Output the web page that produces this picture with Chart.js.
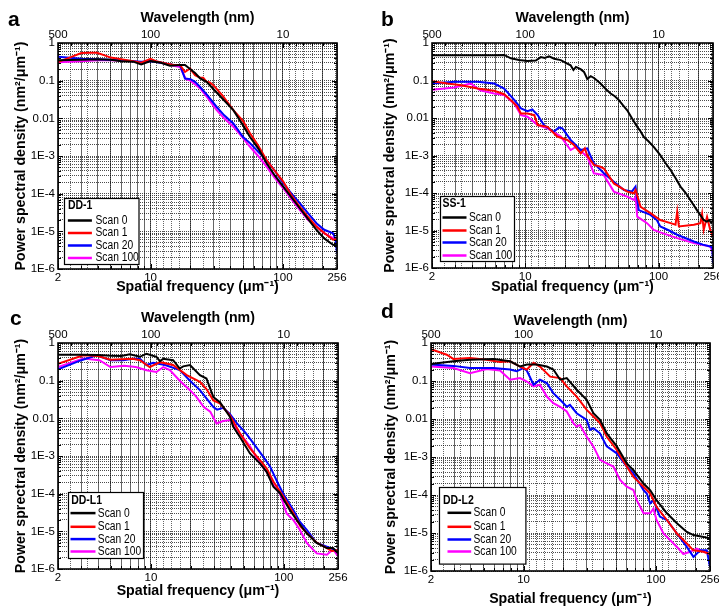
<!DOCTYPE html>
<html><head><meta charset="utf-8">
<script src="https://cdn.jsdelivr.net/npm/chart.js@4.4.1/dist/chart.umd.min.js"></script>
<style>
html,body{margin:0;padding:0;background:#fff;}
#wrap{position:relative;width:719px;height:610px;overflow:hidden;background:#fff;}
.p{position:absolute;}
canvas{display:block;}
</style></head><body>
<div id="wrap">
<div class="p" style="left:0;top:0;width:360px;height:300px"><canvas id="ca" width="360" height="300"></canvas></div>
<div class="p" style="left:360px;top:0;width:359px;height:300px"><canvas id="cb" width="359" height="300"></canvas></div>
<div class="p" style="left:0;top:300px;width:360px;height:310px"><canvas id="cc" width="360" height="310"></canvas></div>
<div class="p" style="left:360px;top:300px;width:359px;height:310px"><canvas id="cd" width="359" height="310"></canvas></div>
</div>
<script>
// ---------- tick labels / categories ----------
const xTickValues = [2, 10, 100, 256];
const xTickLabels = ['2', '10', '100', '256'];
const xGridValues = [2,3,4,5,6,7,8,9,10,20,30,40,50,60,70,80,90,100,200,256];
const topWavelengths = [500,400,300,200,100,90,80,70,60,50,40,30,20,10,9,8,7,6,5,4];
const topTickWavelengths = [500, 100, 10];
const topTickLabels = ['500', '100', '10'];
const yTickValues = [1, 0.1, 0.01, 1e-3, 1e-4, 1e-5, 1e-6];
const yTickLabels = ['1', '0.1', '0.01', '1E-3', '1E-4', '1E-5', '1E-6'];
const seriesNames = ['Scan 0', 'Scan 1', 'Scan 20', 'Scan 100'];
const seriesColors = ['#000000', '#ff0000', '#0000ff', '#ff00ff'];
const panelNames = ['DD-1', 'SS-1', 'DD-L1', 'DD-L2'];

// ---------- data: [spatial frequency (1/um), PSD] ----------
// panel a : DD-1
const a_s0 = [[2,0.35],[3,0.36],[4,0.37],[5,0.36],[6,0.33],[7.4,0.32],[8.5,0.27],[10,0.33],[12,0.3],[14,0.25],[16.7,0.26],[18.2,0.26],[20,0.2],[21.7,0.16],[23.7,0.115],[26.5,0.093],[29.8,0.06],[35,0.033],[42.2,0.0165],[50,0.0065],[56.4,0.0032],[65,0.0016],[75.2,6.4e-4],[87,3.0e-4],[100.5,1.54e-4],[116,8e-5],[134,4.1e-5],[155,2.1e-5],[179,1.1e-5],[205,6.5e-6],[239,4.4e-6],[256,4.2e-6]];
const a_s1 = [[2,0.31],[2.5,0.42],[3,0.54],[3.5,0.55],[3.94,0.55],[4.5,0.47],[5,0.41],[6,0.37],[7.4,0.33],[8.5,0.3],[10,0.38],[11,0.33],[13.3,0.28],[15,0.26],[16.7,0.26],[18.2,0.17],[19.9,0.21],[21.7,0.14],[23.7,0.12],[25,0.12],[26.5,0.093],[28,0.09],[29.8,0.076],[35,0.04],[42.2,0.0165],[50,0.0085],[56.4,0.004],[65,0.0019],[75.2,7.8e-4],[87,4e-4],[100.5,2.1e-4],[116,9e-5],[134,4.5e-5],[155,2.4e-5],[179,1.34e-5],[205,9e-6],[239,6e-6],[256,6.3e-6]];
const a_s20 = [[2,0.43],[3,0.38],[4,0.37],[5,0.36],[6,0.35],[7.4,0.33],[8.5,0.32],[10,0.33],[12,0.3],[14.9,0.26],[16.7,0.26],[18.2,0.114],[20,0.11],[21.7,0.093],[23.7,0.068],[27,0.04],[31.6,0.02],[36,0.012],[42.2,0.0073],[50,0.0032],[56.4,0.0022],[65,0.0013],[75.2,7.8e-4],[87,4e-4],[100.5,1.9e-4],[116,1.0e-4],[134,5.6e-5],[155,3e-5],[179,1.64e-5],[205,1.1e-5],[239,8.9e-6],[250,6e-6],[256,2.6e-6]];
const a_s100 = [[2,0.31],[3,0.33],[4,0.35],[5,0.35],[6,0.34],[7.4,0.33],[8.5,0.3],[10,0.35],[12,0.3],[14,0.26],[16.7,0.23],[18.5,0.11],[20,0.1],[23.7,0.062],[27,0.035],[31.6,0.0165],[36,0.01],[42.2,0.006],[50,0.003],[56.4,0.00176],[65,0.001],[75.2,5.2e-4],[87,2.6e-4],[100.5,1.39e-4],[116,7e-5],[134,3.7e-5],[155,2e-5],[179,1.34e-5],[205,9e-6],[239,6.6e-6],[256,6e-6]];
// panel b : SS-1
const b_s0 = [[2,0.47],[3,0.47],[4,0.47],[5,0.47],[6,0.47],[6.95,0.48],[7.8,0.39],[9,0.35],[10.4,0.33],[12,0.34],[13.1,0.42],[14,0.4],[15.1,0.44],[16.5,0.38],[18.5,0.35],[20,0.3],[21.9,0.255],[23,0.19],[24,0.23],[26,0.2],[27.6,0.17],[29.2,0.11],[31,0.13],[33,0.115],[36.7,0.083],[40,0.06],[43.7,0.045],[47,0.038],[50.4,0.03],[54,0.022],[58.2,0.016],[63,0.01],[69.2,0.0058],[73,0.0045],[77.6,0.0031],[84,0.0024],[92,0.0017],[103,0.00103],[112,6.5e-4],[123,4.1e-4],[134,2.5e-4],[146,1.48e-4],[160,1e-4],[173,6.5e-5],[194,3.5e-5],[218,1.9e-5],[230,1.73e-5],[240,1.9e-5],[248,1.6e-5],[256,1.9e-5]];
const b_s1 = [[2,0.096],[2.62,0.083],[3.3,0.075],[4.4,0.061],[5.85,0.053],[6.95,0.043],[7.8,0.03],[8.75,0.02],[9.27,0.0132],[10.4,0.0132],[11.7,0.0119],[12.4,0.0065],[14.7,0.0058],[17.4,0.0032],[20.7,0.0026],[23.2,0.0019],[26.1,0.00114],[28,0.00155],[29.2,0.001],[32.7,5.6e-4],[36.7,5e-4],[38.9,4.5e-4],[46.2,1.8e-4],[58.2,1.09e-4],[65.3,9.8e-5],[67.2,1.2e-4],[73.3,4.3e-5],[87,2.9e-5],[103,1.9e-5],[123,1.57e-5],[134,1.42e-5],[138,3.2e-5],[142,1.28e-5],[184,1.42e-5],[206,1.57e-5],[212,2.8e-5],[218,1.04e-5],[231,2.3e-5],[244,1.04e-5],[256,6.9e-6]];
const b_s20 = [[2,0.083],[2.94,0.092],[4.4,0.092],[5.85,0.083],[6.95,0.061],[8.3,0.03],[9.3,0.018],[10.4,0.0152],[11.3,0.0169],[12.4,0.012],[13.8,0.0065],[16.4,0.0043],[17.9,0.0056],[19,0.0053],[21.9,0.0026],[26.1,0.0014],[29.2,0.00155],[32.7,6.2e-4],[38.9,3.35e-4],[46.2,2.0e-4],[55,1.2e-4],[63,1.09e-4],[67.2,1.48e-4],[71,3.5e-5],[87,2.6e-5],[97,1.9e-5],[103,1.28e-5],[120,1e-5],[138,7.7e-6],[160,6.2e-6],[184,5.1e-6],[215,4.2e-6],[244,3.75e-6],[253,3.5e-6],[256,1.35e-6]];
const b_s100 = [[2,0.057],[2.94,0.065],[3.9,0.083],[4.6,0.055],[5.85,0.045],[6.95,0.041],[8.3,0.024],[9.3,0.012],[10.4,0.0108],[12.4,0.0065],[14.7,0.0053],[18.5,0.0032],[21.9,0.0014],[24,0.0017],[29.2,9.3e-4],[32.7,3.35e-4],[38.9,3.0e-4],[46.2,1.09e-4],[58.2,8e-5],[65.3,6.5e-5],[67.2,8e-5],[69.2,2.35e-5],[82,1.57e-5],[92,1.04e-5],[103,8.9e-6],[138,6.25e-6],[184,4.6e-6],[244,3.75e-6],[256,2.5e-6]];
// panel c : DD-L1
const c_s0 = [[2,0.49],[3,0.49],[4,0.48],[5,0.46],[6,0.45],[6.94,0.5],[8.26,0.43],[9.27,0.52],[11,0.43],[11.7,0.33],[12.4,0.38],[14.7,0.35],[16.5,0.21],[17.5,0.24],[19.7,0.26],[23.4,0.14],[26.2,0.114],[29.5,0.037],[33.1,0.027],[39.3,0.011],[41.7,0.006],[46.8,0.0032],[55.7,0.00117],[66.2,6.4e-4],[74.3,3.8e-4],[83.5,1.54e-4],[93.7,1.03e-4],[111,3.7e-5],[125,2.0e-5],[149,8.9e-6],[177,4.9e-6],[211,3.6e-6],[235,3.6e-6],[256,2.6e-6]];
const c_s1 = [[2,0.28],[3.1,0.47],[4,0.45],[4.96,0.36],[6,0.37],[7.3,0.38],[8.26,0.35],[9.8,0.23],[11.7,0.31],[14.7,0.26],[18.6,0.14],[23.4,0.093],[26.2,0.06],[29.5,0.03],[33.1,0.025],[39.3,0.012],[46.8,0.004],[55.7,0.0016],[66.2,7.8e-4],[74.3,4.7e-4],[83.5,2.1e-4],[99,8.5e-5],[118,3e-5],[134,1.34e-5],[149,9e-6],[177,5e-6],[211,3.6e-6],[230,3e-6],[256,3.2e-6]];
const c_s20 = [[2,0.2],[3,0.35],[3.9,0.47],[4.96,0.35],[6.2,0.35],[7.3,0.38],[8.26,0.38],[9.27,0.26],[10.4,0.3],[12.8,0.26],[16.5,0.19],[19.7,0.1],[23.4,0.056],[29.5,0.02],[31.5,0.017],[35,0.019],[39.3,0.013],[44.5,0.0073],[52,0.004],[59,0.0022],[70,9.6e-4],[79,5.2e-4],[88,2.3e-4],[99,1.0e-4],[118,3.7e-5],[132,1.8e-5],[149,1.1e-5],[177,4.9e-6],[211,3.9e-6],[240,3.3e-6],[256,3.0e-6]];
const c_s100 = [[2,0.23],[3.1,0.385],[4.1,0.35],[4.96,0.23],[6.3,0.25],[7.7,0.23],[9.27,0.19],[11,0.17],[12.4,0.23],[13.9,0.19],[16.5,0.1],[19.7,0.056],[22,0.037],[25,0.02],[28,0.015],[31.2,0.0073],[35,0.0085],[39.3,0.009],[46.8,0.004],[55.7,0.0018],[66.2,6.4e-4],[74.3,3.8e-4],[83.5,1.7e-4],[93.7,1.0e-4],[105,3e-5],[118,2e-5],[132,1.1e-5],[149,4.9e-6],[177,2.6e-6],[211,2.4e-6],[235,3.3e-6],[256,2.2e-6]];
// panel d : DD-L2
const d_s0 = [[2,0.28],[2.95,0.33],[3.94,0.36],[5.92,0.38],[7.91,0.33],[9.41,0.24],[10.6,0.27],[12.6,0.27],[15,0.24],[16.8,0.2],[18.9,0.108],[21.2,0.119],[25.2,0.059],[30,0.032],[33.7,0.0142],[37.8,0.0095],[42.5,0.0042],[50.6,0.0019],[60.2,6.8e-4],[67.6,4.5e-4],[80.5,2.0e-4],[90.4,1.35e-4],[101,7.3e-5],[121,3.3e-5],[144,1.8e-5],[171,1.07e-5],[192,8.8e-6],[229,7.9e-6],[256,7.2e-6]];
const d_s1 = [[2,0.69],[2.63,0.49],[2.95,0.38],[3.94,0.40],[5.27,0.36],[6.64,0.315],[7.91,0.33],[9.41,0.24],[10.6,0.2],[11.9,0.3],[13.3,0.24],[15.9,0.13],[18.9,0.119],[21.2,0.072],[25.2,0.039],[30,0.0174],[33.7,0.0116],[37.8,0.0078],[42.5,0.0034],[50.6,0.00153],[60.2,5.6e-4],[67.6,3.0e-4],[80.5,1.65e-4],[90.4,1.1e-4],[101,4.9e-5],[121,2.2e-5],[144,9.7e-6],[171,5.3e-6],[192,3.5e-6],[229,3.2e-6],[256,2.8e-6]];
const d_s20 = [[2,0.27],[2.95,0.25],[3.94,0.22],[5.92,0.22],[7.91,0.2],[8.88,0.18],[9.97,0.22],[10.6,0.186],[11.9,0.08],[13.3,0.108],[15,0.088],[16.8,0.048],[18.9,0.032],[21.2,0.021],[22.4,0.0236],[25.2,0.0142],[30,0.0095],[31.8,0.0052],[33.7,0.0057],[37.8,0.0042],[42.5,0.0019],[50.6,0.00125],[60.2,5.6e-4],[67.6,3.7e-4],[80.5,1.35e-4],[85.3,1.1e-4],[90.4,6.0e-5],[95.7,7.3e-5],[107,2.7e-5],[121,2.2e-5],[144,9.7e-6],[171,4.3e-6],[192,2.35e-6],[216,3.5e-6],[242,3.5e-6],[256,1.28e-6]];
const d_s100 = [[2,0.24],[2.95,0.22],[3.94,0.161],[5.27,0.206],[6.64,0.19],[7.91,0.108],[9.41,0.119],[10.6,0.097],[11.9,0.072],[13.3,0.08],[15,0.039],[16.8,0.026],[18.9,0.021],[21.2,0.0157],[23.8,0.0078],[25.2,0.0063],[26.7,0.007],[30,0.0034],[33.7,0.0019],[37.8,8.4e-4],[42.5,6.8e-4],[47.7,5.6e-4],[53.6,2.5e-4],[60.2,1.65e-4],[67.6,1.35e-4],[71.6,7.3e-5],[80.5,3.3e-5],[90.4,3.3e-5],[95.7,4.4e-5],[101,2.2e-5],[114,9.7e-6],[128,6.5e-6],[144,4.3e-6],[161,2.8e-6],[181,3.2e-6],[204,3.9e-6],[229,3.2e-6],[256,2.8e-6]];

// ---------- rendering ----------
const FONT_R = "'Liberation Sans',Arial,sans-serif";
Chart.defaults.font.family = FONT_R;
Chart.defaults.color = '#000';

const yGridValues = [];
for (let e = -6; e <= -1; e++) for (let m = 1; m <= 9; m++) yGridValues.push(Number((m * Math.pow(10, e)).toPrecision(3)));
yGridValues.push(1);

function near(a, b) { return Math.abs(Math.log10(a) - Math.log10(b)) < 1e-6; }

const panels = [
  {id:'ca', letter:'a', name:panelNames[0], series:[a_s0,a_s1,a_s20,a_s100], L:58, R:23, T:43, B:31,
   yTitle:'Power spectral density (nm²/μm⁻¹)', yPad:12.5, tPad:10, bPad:4.5, lx:8, ly:26,
   leg:{x:5.5, yb:5.5, w:74.5, h:66, tx:3.4, ty:7, l0:3.4, l1:27.4, textX:31, rows:[22,34.5,47,59.5]}},
  {id:'cb', letter:'b', name:panelNames[1], series:[b_s0,b_s1,b_s20,b_s100], L:72, R:6, T:43, B:32,
   yTitle:'Power sprectral density (nm²/μm⁻¹)', yPad:21.5, tPad:10, bPad:4.5, lx:21, ly:26,
   leg:{x:8, yb:7, w:74, h:65, tx:2, ty:7, l0:2, l1:26, textX:28.5, rows:[21,34,46,59]}},
  {id:'cc', letter:'c', name:panelNames[2], series:[c_s0,c_s1,c_s20,c_s100], L:58, R:22, T:43, B:41,
   yTitle:'Power sprectral density (nm²/μm⁻¹)', yPad:12.5, tPad:10, bPad:10.5, lx:10, ly:25,
   leg:{x:10, yb:11, w:75, h:66, tx:2.7, ty:8.3, l0:2, l1:27, textX:29.3, rows:[20.6,34.3,46.6,59]}},
  {id:'cd', letter:'d', name:panelNames[3], series:[d_s0,d_s1,d_s20,d_s100], L:71, R:9, T:43, B:39,
   yTitle:'Power sprectral density (nm²/μm⁻¹)', yPad:23, tPad:12.5, bPad:2, lx:21, ly:18,
   leg:{x:8.3, yb:7.4, w:86.4, h:76.6, tx:3.4, ty:13.3, l0:8, l1:31.7, textX:34, rows:[25.3,39.3,52,64]}}
];

// narrow-looking text for the hand-drawn legend
function narrowText(ctx, txt, x, y, sx) {
  ctx.save(); ctx.translate(x, y); ctx.scale(sx, 1); ctx.fillText(txt, 0, 0); ctx.restore();
}

function makePanel(p) {
  const datasets = p.series.map((arr, i) => ({
    label: seriesNames[i],
    data: arr.map(q => ({x: q[0], y: q[1]})),
    borderColor: seriesColors[i], backgroundColor: seriesColors[i],
    borderWidth: 2, pointRadius: 0, tension: 0, fill: false
  }));
  const deco = {
    id: 'deco_' + p.letter,
    afterDatasetsDraw(chart) {
      const ctx = chart.ctx, a = chart.chartArea;
      const sx = chart.scales.x, sx2 = chart.scales.x2, sy = chart.scales.y;
      ctx.save();
      // inward tick marks
      ctx.strokeStyle = '#000'; ctx.lineWidth = 1;
      ctx.beginPath();
      xGridValues.forEach(v => {
        const px = Math.round(sx.getPixelForValue(v)) + 0.5;
        const len = xTickValues.some(t => near(t, v)) ? 5 : 3;
        ctx.moveTo(px, a.bottom); ctx.lineTo(px, a.bottom - len);
      });
      topWavelengths.forEach(w => {
        const px = Math.round(sx2.getPixelForValue(1000 / w)) + 0.5;
        const len = topTickWavelengths.includes(w) ? 5 : 3;
        ctx.moveTo(px, a.top); ctx.lineTo(px, a.top + len);
      });
      yGridValues.forEach(v => {
        const py = Math.round(sy.getPixelForValue(v)) + 0.5;
        const len = yTickValues.some(t => near(t, v)) ? 5 : 3;
        ctx.moveTo(a.left, py); ctx.lineTo(a.left + len, py);
        ctx.moveTo(a.right, py); ctx.lineTo(a.right - len, py);
      });
      ctx.stroke();
      // frame
      ctx.lineWidth = 1.6;
      ctx.strokeRect(a.left, a.top, a.right - a.left, a.bottom - a.top);
      // legend
      const L = p.leg;
      const bx = Math.round(a.left + L.x) + 0.5, by = Math.round(a.bottom - L.yb - L.h) + 0.5;
      ctx.fillStyle = '#fff'; ctx.fillRect(bx, by, L.w, L.h);
      ctx.lineWidth = 1.2; ctx.strokeRect(bx, by, L.w, L.h);
      ctx.fillStyle = '#000'; ctx.textBaseline = 'middle'; ctx.textAlign = 'left';
      ctx.font = 'bold 12.5px ' + FONT_R;
      narrowText(ctx, p.name, bx + L.tx, by + L.ty, 0.84);
      ctx.font = '12.5px ' + FONT_R;
      chart.data.datasets.forEach((d, i) => {
        const yy = by + L.rows[i];
        ctx.strokeStyle = d.borderColor; ctx.lineWidth = 2.5;
        ctx.beginPath(); ctx.moveTo(bx + L.l0, yy); ctx.lineTo(bx + L.l1, yy); ctx.stroke();
        ctx.fillStyle = '#000'; narrowText(ctx, d.label, bx + L.textX, yy, 0.82);
      });
      ctx.font = 'bold 21px ' + FONT_R; ctx.textBaseline = 'alphabetic';
      ctx.fillText(p.letter, p.lx, p.ly);
      ctx.restore();
    }
  };
  const tickFont = {size: 11.5, family: FONT_R};
  const titleFont = {size: 14.2, weight: 'bold', family: FONT_R};
  new Chart(document.getElementById(p.id), {
    type: 'line',
    data: {datasets},
    plugins: [deco],
    options: {
      responsive: false, animation: false, devicePixelRatio: 1,
      layout: {padding: {left: 0, top: 0, bottom: 0, right: p.R}},
      plugins: {legend: {display: false}, tooltip: {enabled: false}},
      scales: {
        x: {
          type: 'logarithmic', position: 'bottom', min: 2, max: 256,
          afterBuildTicks: s => { s.ticks = xGridValues.map(v => ({value: v})); },
          afterFit: s => { s.height = p.B; s.paddingLeft = 0; s.paddingRight = 0; },
          ticks: {autoSkip: false, maxRotation: 0, minRotation: 0, padding: 2, font: tickFont, color: '#000',
            callback: v => { const i = xTickValues.findIndex(t => near(t, v)); return i >= 0 ? xTickLabels[i] : ''; }},
          grid: {color: 'rgba(0,0,0,0.6)', lineWidth: 1, drawTicks: false},
          border: {display: false},
          title: {display: true, text: 'Spatial frequency (μm⁻¹)', font: titleFont, color: '#000', padding: {top: 0, bottom: p.bPad}}
        },
        x2: {
          type: 'logarithmic', position: 'top', min: 2, max: 256,
          afterBuildTicks: s => { s.ticks = topWavelengths.map(w => ({value: 1000 / w})); },
          afterFit: s => { s.height = p.T; s.paddingLeft = 0; s.paddingRight = 0; },
          ticks: {autoSkip: false, maxRotation: 0, minRotation: 0, padding: 1.2, font: tickFont, color: '#000',
            callback: v => { const i = topTickWavelengths.findIndex(w => near(1000 / w, v)); return i >= 0 ? topTickLabels[i] : ''; }},
          grid: {color: 'rgba(0,0,0,0.6)', lineWidth: 1, drawTicks: false},
          border: {display: false, dash: [1, 1]},
          title: {display: true, text: 'Wavelength (nm)', font: titleFont, color: '#000', padding: {top: p.tPad, bottom: 0}}
        },
        y: {
          type: 'logarithmic', position: 'left', min: 1e-6, max: 1,
          afterBuildTicks: s => { s.ticks = yGridValues.map(v => ({value: v})); },
          afterFit: s => { s.width = p.L; s.paddingTop = 0; s.paddingBottom = 0; },
          ticks: {autoSkip: false, padding: 3, font: tickFont, color: '#000',
            callback: v => { const i = yTickValues.findIndex(t => near(t, v)); return i >= 0 ? yTickLabels[i] : ''; }},
          grid: {color: 'rgba(0,0,0,0.7)', lineWidth: 1, drawTicks: false},
          border: {display: false, dash: [1, 1]},
          title: {display: true, text: p.yTitle, font: titleFont, color: '#000', padding: {top: p.yPad, bottom: 0}}
        }
      }
    }
  });
}
panels.forEach(makePanel);
</script>
</body></html>
